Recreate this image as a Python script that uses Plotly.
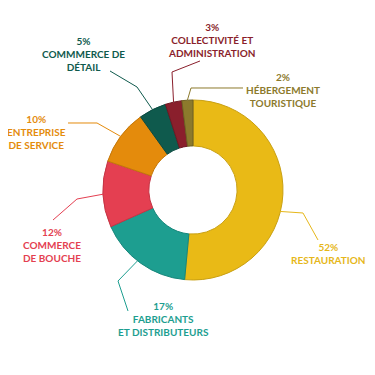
import math
import plotly.graph_objects as go

labels = ["RESTAURATION", "FABRICANTS<br>ET DISTRIBUTEURS", "COMMERCE<br>DE BOUCHE",
          "ENTREPRISE<br>DE SERVICE", "COMMMERCE DE<br>DÉTAIL", "COLLECTIVITÉ ET<br>ADMINISTRATION",
          "HÉBERGEMENT<br>TOURISTIQUE"]
values = [52, 17, 12, 10, 5, 3, 2]
colors = ["#E9BA16", "#1D9E90", "#E43F51", "#E48B0C", "#0F5A4D", "#8A1F2C", "#8C7A2C"]
edge_colors = ["#C9A012", "#17877B", "#C43545", "#C4780A", "#0B4A40", "#6E1823", "#6E6022"]
text_colors = ["#E6B71A", "#1D9E90", "#E43F51", "#E48B0C", "#0F5A4D", "#8A1F2C", "#8C7A2C"]

OFF = 8                      # page body margin
W = H = 375 - OFF
CX, CY, R = 193, 190, 90     # pie centre / radius in page pixels
HOLE = 0.49
anchor_frac = [0.56, 0.54, 0.5, 0.5, 0.5, 0.5, 0.5]
elbows = [[(303, 213), (318, 240)],
          [(118, 281), (128, 311)],
          [(77, 199), (53, 220)],
          [(97, 123), (68, 123)],
          [(137, 87), (110, 71)],
          [(172, 72), (200, 61)],
          [(191, 88), (243, 88)]]
label_pos = [(328, 239), (163, 298), (52, 224), (36, 111), (83, 33), (212, 19), (283, 69)]


def px(x, y):
    return (x - OFF) / W, 1 - (y - OFF) / H


x0, y1 = px(CX - R, CY - R)
x1, y0 = px(CX + R, CY + R)

fig = go.Figure(go.Pie(
    values=values, labels=[l.replace("<br>", " ") for l in labels],
    sort=False, direction="clockwise", rotation=0, hole=HOLE,
    marker=dict(colors=colors, line=dict(color=edge_colors, width=1)),
    textinfo="none", hoverinfo="label+percent", showlegend=False,
    domain=dict(x=[x0, x1], y=[y0, y1]),
))

total = sum(values)
cum = 0
shapes = []
annotations = []
for i, v in enumerate(values):
    ang = (cum + v * anchor_frac[i]) / total * 2 * math.pi
    cum += v
    sx = CX + R * math.sin(ang)
    sy = CY - R * math.cos(ang)
    pts = [(sx, sy)] + elbows[i]
    path = "M " + " L ".join(f"{px(x, y)[0]:.5f},{px(x, y)[1]:.5f}" for x, y in pts)
    shapes.append(dict(type="path", xref="paper", yref="paper", path=path,
                       line=dict(color=text_colors[i], width=1)))
    lx, ly = px(*label_pos[i])
    annotations.append(dict(x=lx, y=ly, xref="paper", yref="paper", xanchor="center", yanchor="top",
                            text=f"{v}%<br>{labels[i]}", showarrow=False, align="center",
                            font=dict(family="Lato", size=10, color=text_colors[i], weight="bold")))

fig.update_layout(width=W, height=H, margin=dict(l=0, r=0, t=0, b=0),
                  paper_bgcolor="white", plot_bgcolor="white",
                  shapes=shapes, annotations=annotations)
fig.write_html("out.html")
